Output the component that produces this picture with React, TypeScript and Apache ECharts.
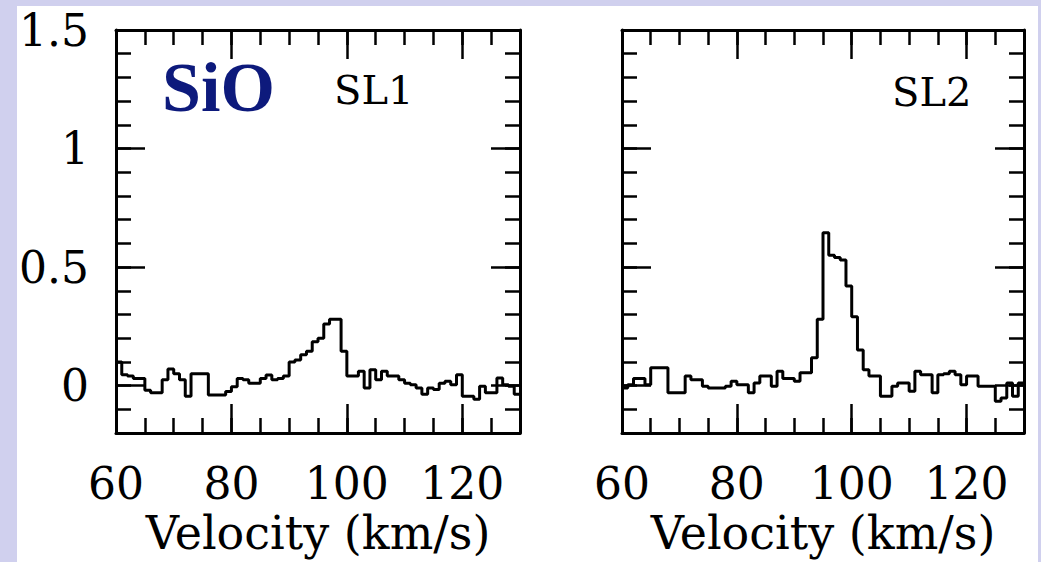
import React, { useEffect, useRef } from "react";
import * as echarts from "echarts";

// Channel left edges (km/s), 1 km/s channels
const channelWidth = 1;
const velocities = [
  60, 61, 62, 63, 64, 65, 66, 67, 68, 69,
  70, 71, 72, 73, 74, 75, 76, 77, 78, 79,
  80, 81, 82, 83, 84, 85, 86, 87, 88, 89,
  90, 91, 92, 93, 94, 95, 96, 97, 98, 99,
  100, 101, 102, 103, 104, 105, 106, 107, 108, 109,
  110, 111, 112, 113, 114, 115, 116, 117, 118, 119,
  120, 121, 122, 123, 124, 125, 126, 127, 128, 129,
];

const sl1Values = [
  0.1, 0.046, 0.04, 0.03, 0.03, -0.02, -0.03, -0.03, 0.025, 0.07,
  0.05, 0.025, -0.045, 0.05, 0.05, 0.05, -0.04, -0.04, -0.04, -0.025,
  -0.005, 0.03, 0.025, 0.01, 0.01, 0.03, 0.045, 0.025, 0.03, 0.04,
  0.1, 0.108, 0.13, 0.145, 0.185, 0.2, 0.26, 0.28, 0.28, 0.145,
  0.04, 0.04, 0.06, -0.01, 0.067, 0.025, 0.06, 0.04, 0.04, 0.025,
  0.01, 0.004, -0.01, -0.037, -0.01, -0.017, 0.01, 0.018, 0.004, 0.046,
  -0.045, -0.045, -0.058, -0.003, -0.03, -0.03, 0.032, 0.004, -0.003, -0.037,
];

const sl2Values = [
  -0.01, 0.004, 0.03, 0.03, 0.004, 0.075, 0.075, 0.075, -0.03, -0.03,
  -0.03, 0.04, 0.025, 0.025, -0.003, -0.01, -0.01, -0.01, -0.003, 0.018,
  0.004, 0.004, -0.03, 0.011, 0.04, 0.04, -0.003, 0.06, 0.03, 0.03,
  0.018, 0.054, 0.054, 0.117, 0.28, 0.645, 0.55, 0.54, 0.53, 0.42,
  0.29, 0.15, 0.067, 0.04, 0.04, -0.045, -0.045, -0.003, 0.011, 0.011,
  -0.024, 0.06, 0.046, 0.046, -0.03, 0.046, 0.05, 0.06, 0.046, 0.004,
  0.04, 0.04, -0.003, -0.003, -0.003, -0.066, -0.052, 0.011, -0.045, 0.011,
];

const X_MIN = 60;
const X_MAX = 130;
const X_MINOR = 5;
const xMajorTicks = [80, 100, 120];
const xTickLabels = [60, 80, 100, 120];
const Y_MIN = -0.2;
const Y_MAX = 1.5;
const Y_MINOR = 0.1;
const yMajorTicks = [0, 0.5, 1, 1.5];
const panelLabels = ["SL1", "SL2"];
const moleculeLabel = "SiO";
const xAxisTitle = "Velocity (km/s)";

const FONT = "DejaVu Serif";
const BLACK = "#000";

function toSteps(vals: number[]) {
  const pts = velocities.map((v, i) => [v, vals[i]]);
  const last = velocities.length - 1;
  pts.push([velocities[last] + channelWidth, vals[last]]);
  return pts;
}

const line = { show: true, onZero: false, lineStyle: { color: BLACK, width: 3 } };
const noLine = { show: false, onZero: false };
const shortTick = { show: true, inside: true, length: 15, lineStyle: { color: BLACK, width: 2.5 } };
function longTick(values: number[]) {
  return { show: true, inside: true, length: 29, customValues: values, lineStyle: { color: BLACK, width: 2.5 } };
}

function xAxesFor(gridIndex: number) {
  const base: any = {
    type: "value",
    gridIndex,
    min: X_MIN,
    max: X_MAX,
    interval: X_MINOR,
    offset: 0,
    splitLine: { show: false },
  };
  return [
    {
      ...base,
      position: "bottom",
      axisLine: line,
      axisTick: longTick(xMajorTicks),
      axisLabel: {
        show: true,
        customValues: xTickLabels,
        fontFamily: FONT,
        fontSize: 44,
        color: BLACK,
        margin: 28,
      },
      name: xAxisTitle,
      nameLocation: "middle",
      nameGap: 76,
      nameTextStyle: { fontFamily: FONT, fontSize: 46, color: BLACK },
    },
    {
      ...base,
      position: "bottom",
      axisLine: noLine,
      axisTick: shortTick,
      axisLabel: { show: false },
    },
    { ...base, position: "top", axisLine: line, axisTick: longTick(xMajorTicks), axisLabel: { show: false } },
    { ...base, position: "top", axisLine: noLine, axisTick: shortTick, axisLabel: { show: false } },
  ];
}

function yAxesFor(gridIndex: number, withLabels: boolean) {
  const base: any = {
    type: "value",
    gridIndex,
    min: Y_MIN,
    max: Y_MAX,
    interval: Y_MINOR,
    offset: 0,
    splitLine: { show: false },
  };
  return [
    { ...base, position: "left", axisLine: line, axisTick: shortTick, axisLabel: { show: false } },
    {
      ...base,
      position: "left",
      axisLine: noLine,
      axisTick: longTick(yMajorTicks),
      axisLabel: withLabels
        ? { show: true, customValues: yMajorTicks, fontFamily: FONT, fontSize: 44, color: BLACK, margin: 27 }
        : { show: false },
    },
    { ...base, position: "right", axisLine: line, axisTick: shortTick, axisLabel: { show: false } },
    { ...base, position: "right", axisLine: noLine, axisTick: longTick(yMajorTicks), axisLabel: { show: false } },
  ];
}

export default function App() {
  const ref = useRef<HTMLDivElement>(null);

  useEffect(() => {
    if (!ref.current) return;
    const chart = echarts.init(ref.current, undefined, { renderer: "svg" });
    const option: any = {
      animation: false,
      backgroundColor: "transparent",
      grid: [
        { left: 116, top: 30, width: 404, height: 403, outerBoundsMode: "none", containLabel: false },
        { left: 622, top: 30, width: 402, height: 403, outerBoundsMode: "none", containLabel: false },
      ],
      xAxis: [...xAxesFor(0), ...xAxesFor(1)],
      yAxis: [...yAxesFor(0, true), ...yAxesFor(1, false)],
      series: [
        {
          type: "line",
          xAxisIndex: 0,
          yAxisIndex: 0,
          step: "end",
          symbol: "none",
          data: toSteps(sl1Values),
          lineStyle: { color: BLACK, width: 3 },
          z: 5,
        },
        {
          type: "line",
          xAxisIndex: 4,
          yAxisIndex: 4,
          step: "end",
          symbol: "none",
          data: toSteps(sl2Values),
          lineStyle: { color: BLACK, width: 3 },
          z: 5,
        },
      ],
      graphic: [
        {
          type: "text",
          left: 334,
          top: 70,
          style: { text: panelLabels[0], fontFamily: FONT, fontSize: 40, fill: BLACK },
        },
        {
          type: "text",
          left: 892,
          top: 72,
          style: { text: panelLabels[1], fontFamily: FONT, fontSize: 40, fill: BLACK },
        },
        {
          type: "text",
          left: 162,
          top: 52,
          style: {
            text: moleculeLabel,
            fontFamily: "Liberation Serif",
            fontWeight: "bold",
            fontSize: 70,
            fill: "#0d1a7c",
          },
        },
      ],
    };
    chart.setOption(option);
    return () => chart.dispose();
  }, []);

  return (
    <div style={{ position: "absolute", left: 0, top: 0, width: 1041, height: 562, background: "#d0d0ee", overflow: "hidden" }}>
      <div style={{ position: "absolute", left: 17, top: 6, width: 1021, height: 556, background: "#fff" }} />
      <div ref={ref} style={{ position: "absolute", left: 0, top: 0, width: 1041, height: 562 }} />
    </div>
  );
}
